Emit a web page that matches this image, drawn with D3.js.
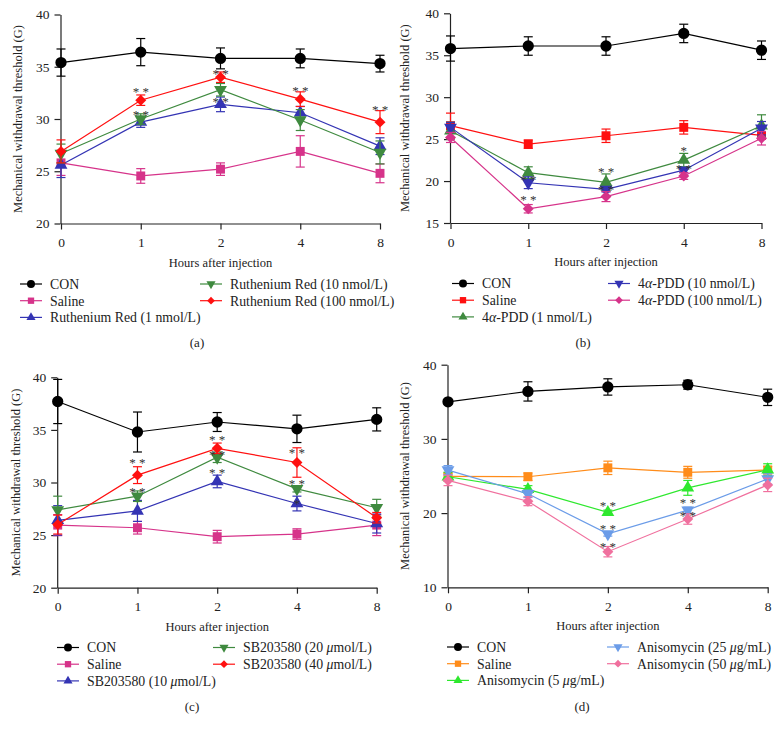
<!DOCTYPE html>
<html lang="en">
<head>
<meta charset="UTF-8">
<title>Mechanical withdrawal threshold</title>
<script src="https://d3js.org/d3.v7.min.js"></script>
<style>
    body { margin: 0; background: #fff; }
    svg text { font-family: 'Liberation Serif', 'DejaVu Serif', serif; fill: #222; }
    .axis path, .axis line { stroke: #222; stroke-width: 1.2; }
    .axis text { font-size: 13.5px; }
</style>
</head>
<body>
<svg id="chart" width="780" height="732"></svg>
<script>
    var hours = ["0", "1", "2", "4", "8"];

    // (a) Ruthenium Red
    var aNames = ["CON", "Saline", "Ruthenium Red (1 nmol/L)", "Ruthenium Red (10 nmol/L)", "Ruthenium Red (100 nmol/L)"];
    var aMeans = [
        [35.4, 36.4, 35.8, 35.8, 35.3],
        [25.8, 24.55, 25.2, 26.9, 24.8],
        [25.6, 29.7, 31.4, 30.6, 27.4],
        [26.7, 30.0, 32.8, 29.9, 26.8],
        [26.9, 31.8, 34.0, 31.9, 29.7]
    ];
    var aErr = [
        [1.3, 1.3, 1.0, 0.9, 0.8],
        [1.2, 0.7, 0.6, 1.5, 0.9],
        [1.2, 0.5, 0.7, 0.6, 0.8],
        [0.9, 0.5, 0.6, 1.0, 1.1],
        [1.1, 0.5, 0.5, 0.7, 1.1]
    ];
    var aStars = [["1", 32.9, "**"], ["1", 30.7, "**"], ["2", 34.6, "**"], ["2", 31.9, "**"], ["4", 33.0, "**"], ["8", 31.2, "**"]];

    // (b) 4α-PDD
    var bNames = ["CON", "Saline", "4α-PDD (1 nmol/L)", "4α-PDD (10 nmol/L)", "4α-PDD (100 nmol/L)"];
    var bMeans = [
        [35.8, 36.1, 36.1, 37.6, 35.6],
        [26.6, 24.4, 25.4, 26.4, 25.45],
        [26.0, 21.0, 19.85, 22.5, 26.6],
        [26.4, 19.8, 19.0, 21.3, 26.3],
        [25.2, 16.7, 18.15, 20.6, 25.1]
    ];
    var bErr = [
        [1.5, 1.1, 1.1, 1.1, 1.1],
        [1.5, 0.5, 0.8, 0.8, 0.4],
        [1.0, 0.7, 1.0, 0.8, 1.3],
        [0.6, 0.7, 0.3, 0.3, 0.8],
        [0.6, 0.5, 0.6, 0.4, 0.8]
    ];
    var bStars = [["1", 18.1, "**"], ["1", 20.5, "**"], ["2", 21.5, "**"], ["2", 19.3, "**"], ["4", 24.0, "*"], ["4", 21.8, "**"]];

    // (c) SB203580
    var cNames = ["CON", "Saline", "SB203580 (10 μmol/L)", "SB203580 (20 μmol/L)", "SB203580 (40 μmol/L)"];
    var cMeans = [
        [37.7, 34.8, 35.75, 35.1, 36.0],
        [25.95, 25.7, 24.85, 25.1, 25.95],
        [26.4, 27.3, 30.1, 28.0, 26.1],
        [27.4, 28.7, 32.4, 29.4, 27.6],
        [26.0, 30.7, 33.25, 31.9, 26.65]
    ];
    var cErr = [
        [2.1, 1.9, 0.9, 1.3, 1.1],
        [1.0, 0.6, 0.6, 0.5, 1.0],
        [1.4, 1.0, 0.6, 0.7, 0.9],
        [1.3, 0.5, 0.5, 0.3, 0.8],
        [0.9, 0.8, 0.5, 1.4, 0.5]
    ];
    var cStars = [["1", 32.2, "**"], ["1", 29.4, "**"], ["2", 34.3, "**"], ["2", 32.9, "**"], ["2", 31.2, "**"],
                  ["4", 33.1, "**"], ["4", 30.2, "**"], ["4", 28.3, "*"]];

    // (d) Anisomycin
    var dNames = ["CON", "Saline", "Anisomycin (5 μg/mL)", "Anisomycin (25 μg/mL)", "Anisomycin (50 μg/mL)"];
    var dMeans = [
        [35.0, 36.4, 37.0, 37.3, 35.6],
        [24.96, 24.9, 26.1, 25.5, 25.8],
        [24.9, 23.2, 20.1, 23.4, 25.85],
        [25.8, 22.6, 17.2, 20.4, 24.6],
        [24.4, 21.6, 14.8, 19.2, 23.8]
    ];
    var dErr = [
        [0.3, 1.3, 1.1, 0.6, 1.1],
        [0.4, 0.5, 0.9, 0.8, 0.5],
        [0.6, 0.5, 0.3, 1.0, 0.8],
        [0.6, 0.5, 0.3, 0.4, 0.7],
        [0.7, 0.6, 0.7, 0.7, 0.9]
    ];
    var dStars = [["2", 21.4, "**"], ["2", 18.3, "**"], ["2", 15.8, "**"], ["4", 21.8, "**"], ["4", 20.1, "**"]];

    var svg = d3.select("#chart");

    // marker shapes, same order in every panel
    function symbolPath(i, big) {
        var k = big ? 1 : 0.5;
        var types = [d3.symbolCircle, d3.symbolSquare, d3.symbolTriangle, d3.symbolTriangle, d3.symbolSquare];
        var sizes = [100, 80, 72, 72, 60];
        return d3.symbol().type(types[i]).size(sizes[i] * k)();
    }
    function symbolRotate(i) {
        if (i === 3) return " rotate(180)";
        if (i === 4) return " rotate(45)";
        return "";
    }

    // put greek letters in italics
    function richText(sel, str) {
        str.split(/([αμ])/).forEach(function (part) {
            if (!part) return;
            var t = sel.append("tspan").text(part);
            if (part === "α" || part === "μ") t.style("font-style", "italic");
        });
    }

    function drawPanel(p) {
        var g = svg.append("g");
        var x = d3.scalePoint().domain(hours).range([p.x0, p.x1]);
        var y = d3.scaleLinear().domain(p.domain).range([p.yBot, p.yTop]);

        g.append("g").attr("class", "axis")
            .attr("transform", "translate(" + (p.x0 - 0.5) + ",0)")
            .call(d3.axisLeft(y).tickValues(p.ticks).tickSize(6).tickPadding(5).tickSizeOuter(0));
        g.append("g").attr("class", "axis")
            .attr("transform", "translate(0," + p.yBot + ")")
            .call(d3.axisBottom(x).tickSize(6).tickPadding(8).tickSizeOuter(0));

        g.append("text")
            .attr("transform", "translate(" + p.ylabelX + "," + ((p.yTop + p.yBot) / 2) + ") rotate(-90)")
            .attr("text-anchor", "middle")
            .attr("dy", "0.35em")
            .style("font-size", "12.5px")
            .text("Mechanical withdrawal threshold (G)");
        g.append("text")
            .attr("x", (p.x0 + p.x1) / 2)
            .attr("y", p.yBot + 43)
            .attr("text-anchor", "middle")
            .style("font-size", "12.5px")
            .text("Hours after injection");

        var line = d3.line().x(function (d, i) { return x(hours[i]); }).y(function (d) { return y(d); });

        p.means.forEach(function (m, s) {
            var col = p.colors[s];
            var sg = g.append("g");
            sg.append("path").datum(m).attr("d", line)
                .attr("fill", "none").attr("stroke", col).attr("stroke-width", 1.2);
            m.forEach(function (v, i) {
                var cx = x(hours[i]);
                var e = p.errs[s][i];
                sg.append("line").attr("x1", cx).attr("x2", cx).attr("y1", y(v - e)).attr("y2", y(v + e))
                    .attr("stroke", col).attr("stroke-width", 1.2);
                [v - e, v + e].forEach(function (w) {
                    sg.append("line").attr("x1", cx - 4.5).attr("x2", cx + 4.5).attr("y1", y(w)).attr("y2", y(w))
                        .attr("stroke", col).attr("stroke-width", 1.2);
                });
                sg.append("path").attr("d", symbolPath(s, true))
                    .attr("transform", "translate(" + cx + "," + y(v) + ")" + symbolRotate(s))
                    .attr("fill", col);
            });
        });

        p.stars.forEach(function (st) {
            g.append("text")
                .attr("x", x(st[0]))
                .attr("y", y(st[1]))
                .attr("dy", "0.55em")
                .attr("text-anchor", "middle")
                .style("font-size", "13px")
                .style("fill", "#333")
                .text(st[2].split("").join(" "));
        });

        // legend
        p.names.forEach(function (name, s) {
            var col = s < 3 ? 0 : 1;
            var row = s < 3 ? s : s - 3;
            var ly = p.legY + row * 16.7;
            var mx = p.legCols[col];
            var lg = g.append("g");
            lg.append("line").attr("x1", mx).attr("x2", mx + 22).attr("y1", ly).attr("y2", ly)
                .attr("stroke", p.colors[s]).attr("stroke-width", 1.2);
            lg.append("path").attr("d", symbolPath(s, false))
                .attr("transform", "translate(" + (mx + 11) + "," + ly + ")" + symbolRotate(s))
                .attr("fill", p.colors[s]);
            var t = lg.append("text").attr("x", mx + 30).attr("y", ly).attr("dy", "0.35em")
                .style("font-size", "13.8px");
            richText(t, name);
        });

        g.append("text")
            .attr("x", p.capX).attr("y", p.capY)
            .attr("text-anchor", "middle").attr("dy", "0.35em")
            .style("font-size", "13px")
            .text(p.caption);
    }

    drawPanel({
        names: aNames, means: aMeans, errs: aErr, stars: aStars,
        colors: ["#000000", "#d6338a", "#3434b4", "#3f8a3f", "#ff1010"],
        domain: [20, 40], ticks: [20, 25, 30, 35, 40],
        x0: 61, x1: 380, yTop: 14.5, yBot: 223.5, ylabelX: 18,
        legY: 284, legCols: [20, 200], capX: 197, capY: 342, caption: "(a)"
    });
    drawPanel({
        names: bNames, means: bMeans, errs: bErr, stars: bStars,
        colors: ["#000000", "#ff1010", "#3f8a3f", "#3434b4", "#d6338a"],
        domain: [15, 40], ticks: [15, 20, 25, 30, 35, 40],
        x0: 450.5, x1: 761.5, yTop: 13.3, yBot: 223, ylabelX: 405,
        legY: 283.5, legCols: [452, 608], capX: 583, capY: 342, caption: "(b)"
    });
    drawPanel({
        names: cNames, means: cMeans, errs: cErr, stars: cStars,
        colors: ["#000000", "#d6338a", "#3434b4", "#3f8a3f", "#ff1010"],
        domain: [20, 40], ticks: [20, 25, 30, 35, 40],
        x0: 57.7, x1: 376.7, yTop: 377.3, yBot: 587.7, ylabelX: 16,
        legY: 647.5, legCols: [57, 213], capX: 192, capY: 706, caption: "(c)"
    });
    drawPanel({
        names: dNames, means: dMeans, errs: dErr, stars: dStars,
        colors: ["#000000", "#ff8c1a", "#2ee82e", "#6b9ce8", "#f0709e"],
        domain: [10, 40], ticks: [10, 20, 30, 40],
        x0: 448, x1: 767.7, yTop: 364.7, yBot: 587.3, ylabelX: 405,
        legY: 647, legCols: [447, 607], capX: 582, capY: 706, caption: "(d)"
    });
</script>
</body>
</html>
